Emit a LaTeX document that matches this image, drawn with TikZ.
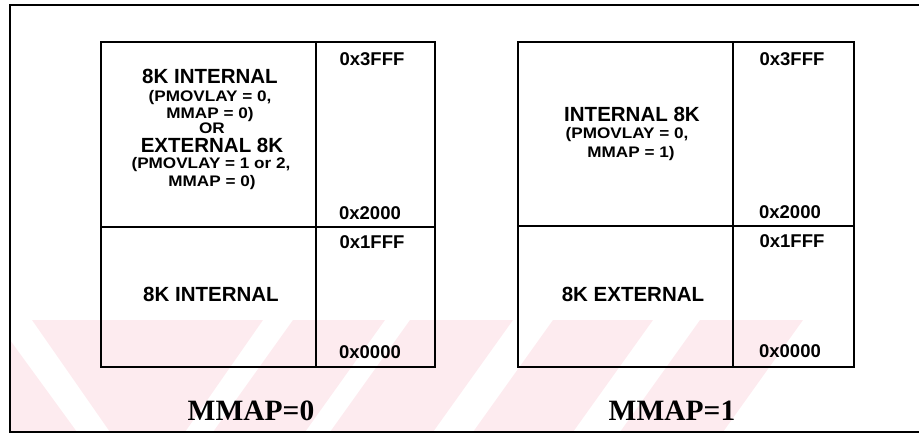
\documentclass[tikz,border=0pt]{standalone}
\usepackage{fontspec}
\setmainfont{Liberation Serif}
\newfontfamily\arialfont{Liberation Sans}
\newfontfamily\arialwide{Liberation Sans}[FakeStretch=1.12]
\definecolor{wmpink}{RGB}{253,235,239}
\begin{document}
\begin{tikzpicture}[x=1pt,y=-1pt,
  head/.style={font=\arialfont\bfseries\fontsize{20.5}{22}\selectfont, inner sep=0, anchor=base},
  sub/.style={font=\arialwide\bfseries\fontsize{15.3}{17}\selectfont, inner sep=0, anchor=base},
  addr/.style={font=\arialfont\bfseries\fontsize{18.5}{20}\selectfont, inner sep=0, anchor=base},
  mcap/.style={font=\bfseries\fontsize{29.5}{32}\selectfont, inner sep=0, anchor=base},
  boxline/.style={line width=2.6pt, line join=miter},
  frameline/.style={line width=1.8pt}]
\useasboundingbox (0,0) rectangle (919,434);
% watermark
\fill[wmpink] (10,340) -- (77,432) -- (10,432) -- cycle;
\fill[wmpink] (32,320) -- (263,320) -- (185,432) -- (110,432) -- cycle;
\fill[wmpink] (293,320) -- (385,320) -- (305,432) -- (213,432) -- cycle;
\fill[wmpink] (410,320) -- (513,320) -- (433,432) -- (330,432) -- cycle;
\fill[wmpink] (553,320) -- (653,320) -- (573,432) -- (473,432) -- cycle;
\fill[wmpink] (700,320) -- (803,320) -- (723,432) -- (620,432) -- cycle;
% frame
\draw[frameline] (919,5) -- (10,5) -- (10,432) -- (919,432);
% left memory map
\draw[boxline] (101,42) rectangle (435,367);
\draw[boxline] (316,42) -- (316,367);
\draw[boxline] (101,227) -- (435,227);
% right memory map
\draw[boxline] (518,42) rectangle (854,367);
\draw[boxline] (733,42) -- (733,367);
\draw[boxline] (518,226) -- (854,226);
% left texts
\node[head] (l1) at (210,83) {8K INTERNAL};
\node[sub]  (l2) at (210,101.5) {(PMOVLAY = 0,};
\node[sub]  (l3) at (210,118.5) {MMAP = 0)};
\node[sub]  (l4) at (212,133.5) {OR};
\node[head] (l5) at (212,152) {EXTERNAL 8K};
\node[sub]  (l6) at (211,168.5) {(PMOVLAY = 1 or 2,};
\node[sub]  (l7) at (212,186) {MMAP = 0)};
\node[head] (l8) at (211,301) {8K INTERNAL};
\node[addr] (la1) at (372,65) {0x3FFF};
\node[addr] (la2) at (370,219.5) {0x2000};
\node[addr] (la3) at (372,248) {0x1FFF};
\node[addr] (la4) at (370,358) {0x0000};
\node[mcap] (lc) at (251,420) {MMAP=0};
% right texts
\node[head] (r1) at (632,121) {INTERNAL 8K};
\node[sub]  (r2) at (627,138) {(PMOVLAY = 0,};
\node[sub]  (r3) at (631,157) {MMAP = 1)};
\node[head] (r4) at (633,301) {8K EXTERNAL};
\node[addr] (ra1) at (792,65) {0x3FFF};
\node[addr] (ra2) at (790,218) {0x2000};
\node[addr] (ra3) at (792,247) {0x1FFF};
\node[addr] (ra4) at (790,357) {0x0000};
\node[mcap] (rc) at (672,420) {MMAP=1};
\end{tikzpicture}
\end{document}
